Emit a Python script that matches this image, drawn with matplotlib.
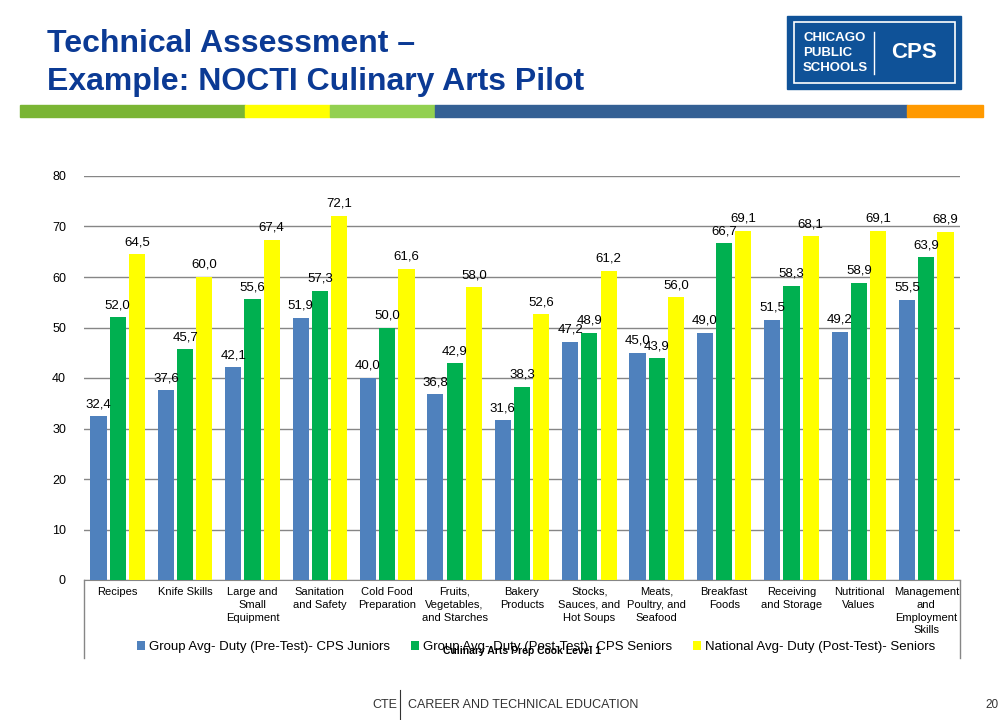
import numpy as np
import matplotlib.pyplot as plt
from matplotlib.patches import Rectangle
from matplotlib.lines import Line2D

plt.rcParams['font.family'] = ['Liberation Sans', 'DejaVu Sans']

# chart data
categories = ["Recipes", "Knife Skills", "Large and\nSmall\nEquipment", "Sanitation\nand Safety",
              "Cold Food\nPreparation", "Fruits,\nVegetables,\nand Starches", "Bakery\nProducts",
              "Stocks,\nSauces, and\nHot Soups", "Meats,\nPoultry, and\nSeafood", "Breakfast\nFoods",
              "Receiving\nand Storage", "Nutritional\nValues", "Management\nand\nEmployment\nSkills"]
pre_juniors = [32.4, 37.6, 42.1, 51.9, 40.0, 36.8, 31.6, 47.2, 45.0, 49.0, 51.5, 49.2, 55.5]
post_seniors = [52.0, 45.7, 55.6, 57.3, 50.0, 42.9, 38.3, 48.9, 43.9, 66.7, 58.3, 58.9, 63.9]
national = [64.5, 60.0, 67.4, 72.1, 61.6, 58.0, 52.6, 61.2, 56.0, 69.1, 68.1, 69.1, 68.9]
series_names = ["Group Avg- Duty (Pre-Test)- CPS Juniors",
                "Group Avg- Duty (Post-Test)- CPS Seniors",
                "National Avg- Duty (Post-Test)- Seniors"]
colors = ["#4F81BD", "#00B050", "#FFFF00"]

W, H = 1008, 720
fig = plt.figure(figsize=(W / 100, H / 100), dpi=100)


def fx(px):
    return px / W


def fy(py):
    return 1 - py / H


# title
title_color = "#0B3A94"
fig.text(fx(47), fy(44), "Technical Assessment –", fontsize=23, fontweight='bold',
         color=title_color, va='center', ha='left')
fig.text(fx(47), fy(82), "Example: NOCTI Culinary Arts Pilot", fontsize=23, fontweight='bold',
         color=title_color, va='center', ha='left')

# coloured band under the title
band = [(20, 245, "#7AB534"), (245, 330, "#FFFF00"), (330, 435, "#92D050"),
        (435, 907, "#346094"), (907, 983, "#FF9900")]
for x0, x1, c in band:
    fig.patches.append(Rectangle((fx(x0), fy(117)), fx(x1 - x0), 12 / H, color=c,
                                 transform=fig.transFigure, figure=fig))

# CPS logo
fig.patches.append(Rectangle((fx(787), fy(89)), fx(174), 73 / H, color="#0F5298",
                             transform=fig.transFigure, figure=fig))
fig.patches.append(Rectangle((fx(794), fy(83)), fx(161), 61 / H, fill=False, ec="white", lw=1.2,
                             transform=fig.transFigure, figure=fig))
for i, word in enumerate(["CHICAGO", "PUBLIC", "SCHOOLS"]):
    fig.text(fx(803), fy(38 + i * 15), word, fontsize=9.5, fontweight='bold', color='white',
             va='center', ha='left')
fig.lines.append(Line2D([fx(874), fx(874)], [fy(32), fy(74)], color='white', lw=1,
                        transform=fig.transFigure))
fig.text(fx(914), fy(53), "CPS", fontsize=16, fontweight='bold', color='white', va='center', ha='center')

# footer
fig.text(fx(372), fy(705), "CTE", fontsize=9, color="#333333", va='center', ha='left')
fig.lines.append(Line2D([fx(400), fx(400)], [fy(690), fy(719)], color='#333333', lw=0.8,
                        transform=fig.transFigure))
fig.text(fx(408), fy(705), "CAREER AND TECHNICAL EDUCATION", fontsize=9, color="#333333",
         va='center', ha='left')
fig.text(fx(992), fy(705), "20", fontsize=8.5, color="#333333", va='center', ha='center')

# chart
ax = fig.add_axes([fx(84), fy(580), fx(876), 404 / H])
x = np.arange(len(categories))
width = 0.24
offsets = [-0.285, 0, 0.285]
for vals, off, c, name in zip([pre_juniors, post_seniors, national], offsets, colors, series_names):
    bars = ax.bar(x + off, vals, width, color=c, label=name, zorder=3)
    for b, v in zip(bars, vals):
        ax.text(b.get_x() + b.get_width() / 2, v + 1.2, f"{v:.1f}".replace('.', ','),
                ha='center', va='bottom', fontsize=9.5, zorder=4)

ax.set_xlim(-0.5, len(categories) - 0.5)
ax.set_ylim(0, 80)
ax.set_yticks(range(0, 81, 10))
ax.yaxis.grid(True, color="#868686", lw=1, zorder=0)
ax.tick_params(axis='y', length=0, labelsize=9, pad=13)
ax.tick_params(axis='x', length=0, labelsize=8, pad=5)
ax.set_xticks(x)
ax.set_xticklabels(categories, linespacing=1.35, va='top')
for s in ['left', 'right', 'top']:
    ax.spines[s].set_visible(False)
ax.spines['bottom'].set_color("#868686")

# frame around the category area
fig.lines.append(Line2D([fx(84), fx(84)], [fy(580), fy(658)], color="#868686", lw=1,
                        transform=fig.transFigure))
fig.lines.append(Line2D([fx(960), fx(960)], [fy(580), fy(658)], color="#868686", lw=1,
                        transform=fig.transFigure))

ax.legend(loc='center', bbox_to_anchor=(fx(536), fy(647)), bbox_transform=fig.transFigure,
          ncol=3, frameon=False, fontsize=9.5, handlelength=0.6, handleheight=0.6,
          handletextpad=0.3, columnspacing=1.6)
fig.text(fx(522), fy(651), "Culinary Arts Prep Cook Level 1", fontsize=7.5, fontweight='bold',
         va='center', ha='center')

fig.savefig("out.png", dpi=100)
